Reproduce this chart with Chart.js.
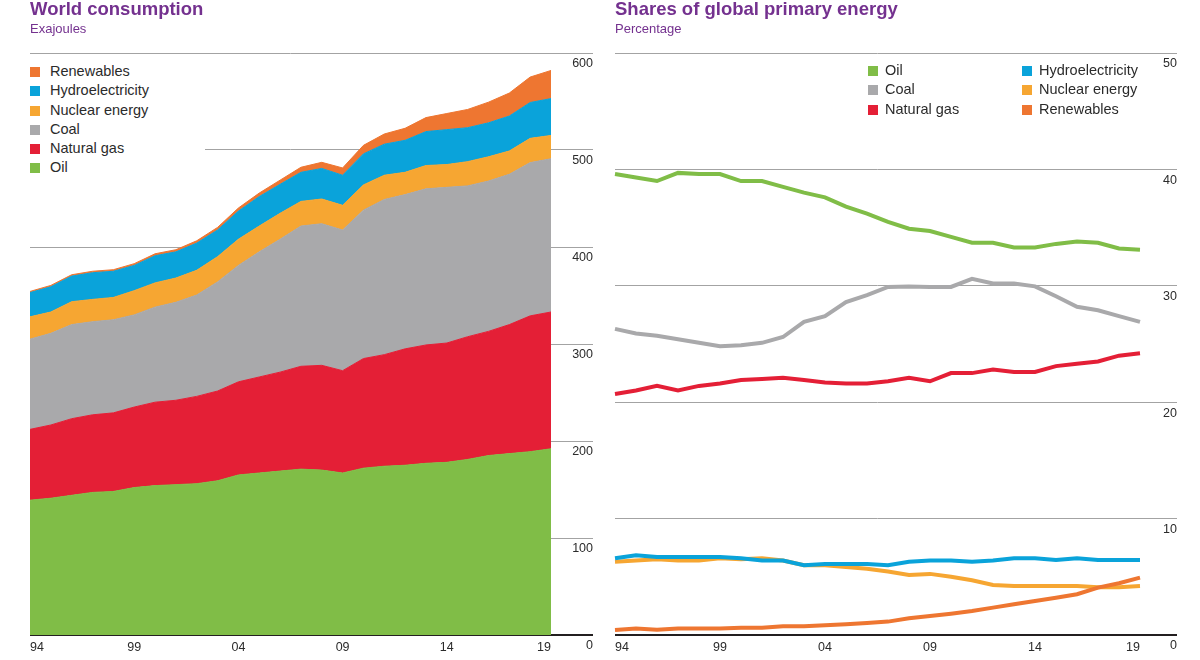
<!DOCTYPE html>
<html>
<head>
<meta charset="utf-8">
<script src="https://cdn.jsdelivr.net/npm/chart.js@4.4.1/dist/chart.umd.min.js"></script>
<style>
  body { margin: 0; width: 1200px; height: 660px; background: #fff; overflow: hidden; position: relative;
         font-family: "Liberation Sans", Arial, sans-serif; }
  .panel { position: absolute; top: 0; width: 600px; height: 660px; }
  .title { position: absolute; top: -1px; font-weight: bold; font-size: 18.5px; line-height: 20px; color: #74318f; white-space: nowrap; }
  .sub { position: absolute; top: 21px; font-size: 13px; line-height: 15px; color: #74318f; }
  .legend { position: absolute; font-size: 14.5px; line-height: 19.3px; color: #2b2b2b; }
  .legend div { white-space: nowrap; }
  .legend span { display: inline-block; width: 10px; height: 10px; vertical-align: -1px; }
</style>
</head>
<body>
<div class="panel" style="left:0"><canvas id="graficoConsumo"></canvas></div>
<div class="panel" style="left:600px"><canvas id="graficoShares"></canvas></div>

<div class="title" style="left:30px">World consumption</div>
<div class="sub" style="left:30px">Exajoules</div>
<div class="title" style="left:615px">Shares of global primary energy</div>
<div class="sub" style="left:615px">Percentage</div>

<div class="legend" id="legendaConsumo" style="left:30px;top:62px;width:175px;height:118px;background:#fff"></div>
<div class="legend" id="legendaShares1" style="left:868px;top:61px"></div>
<div class="legend" id="legendaShares2" style="left:1022px;top:61px"></div>

<script>
// anos do eixo x
const years = [1994, 1995, 1996, 1997, 1998, 1999, 2000, 2001, 2002, 2003, 2004, 2005, 2006,
               2007, 2008, 2009, 2010, 2011, 2012, 2013, 2014, 2015, 2016, 2017, 2018, 2019];

// World consumption, exajoules (empilhado)
const oilEJ     = [139, 141, 144, 147, 148, 152, 154, 155, 156, 159, 165, 167, 169, 171, 170, 167, 172, 174, 175, 177, 178, 181, 185, 187, 189, 192];
const gasEJ     = [73, 75.5, 79, 80, 81, 83, 86, 87, 90, 92.5, 96, 99, 102, 106, 108, 105.5, 113, 115, 120, 122, 123, 126.5, 128, 133, 140, 141];
const coalEJ    = [93, 94.5, 97, 96, 96, 95, 98, 101, 104.5, 112.5, 120, 129, 137, 144.6, 146, 145, 153, 160, 159, 161, 160.5, 155.5, 155, 155, 158, 158];
const nuclearEJ = [23, 22, 23.6, 23, 23, 25, 25, 25, 25.5, 26, 27, 26.6, 26.7, 25.4, 25.5, 25.5, 26, 25, 23, 24, 23.5, 25, 25, 24, 25, 24];
const hydroEJ   = [25, 26, 26.4, 27.5, 27, 26, 28, 27, 28, 27.5, 29, 30.4, 29.9, 30, 31.5, 31, 32, 32, 33, 35, 36, 35, 35, 36, 37, 38];
const renewEJ   = [1.2, 1.4, 1.4, 1.5, 1.6, 1.8, 2, 2.2, 2.4, 2.7, 3.2, 3.6, 4.3, 5.2, 6.3, 7.5, 8.8, 10.5, 12.4, 14.4, 16.6, 18.8, 21.3, 23.7, 26.2, 29];

// Shares of global primary energy, percentagem
const oilShare     = [39.6, 39.3, 39.0, 39.7, 39.6, 39.6, 39.0, 39.0, 38.5, 38.0, 37.6, 36.8, 36.2, 35.5, 34.9, 34.7, 34.2, 33.7, 33.7, 33.3, 33.3, 33.6, 33.8, 33.7, 33.2, 33.1];
const coalShare    = [26.3, 25.9, 25.7, 25.4, 25.1, 24.8, 24.9, 25.1, 25.6, 26.9, 27.4, 28.6, 29.2, 29.9, 29.95, 29.9, 29.9, 30.6, 30.2, 30.2, 29.95, 29.1, 28.2, 27.9, 27.4, 26.9];
const gasShare     = [20.7, 21.0, 21.4, 21.0, 21.4, 21.6, 21.9, 22.0, 22.1, 21.9, 21.7, 21.6, 21.6, 21.8, 22.1, 21.8, 22.5, 22.5, 22.8, 22.6, 22.6, 23.1, 23.3, 23.5, 24.0, 24.2];
const hydroShare   = [6.6, 6.85, 6.7, 6.7, 6.7, 6.7, 6.6, 6.4, 6.4, 6.0, 6.1, 6.1, 6.1, 6.0, 6.3, 6.4, 6.4, 6.3, 6.4, 6.6, 6.6, 6.45, 6.6, 6.45, 6.45, 6.45];
const nuclearShare = [6.3, 6.4, 6.5, 6.4, 6.4, 6.6, 6.5, 6.6, 6.4, 6.0, 6.0, 5.85, 5.7, 5.45, 5.15, 5.25, 5.0, 4.7, 4.3, 4.2, 4.2, 4.2, 4.2, 4.1, 4.1, 4.2];
const renewShare   = [0.43, 0.55, 0.45, 0.55, 0.55, 0.55, 0.63, 0.63, 0.75, 0.75, 0.83, 0.92, 1.03, 1.15, 1.43, 1.63, 1.83, 2.06, 2.35, 2.64, 2.92, 3.2, 3.5, 4.07, 4.45, 4.93];

const cores = {
  'Oil': '#80bd47',
  'Natural gas': '#e41f36',
  'Coal': '#a9a9ab',
  'Nuclear energy': '#f6a632',
  'Hydroelectricity': '#0aa3da',
  'Renewables': '#ee7631'
};

// ordem de empilhamento (de baixo para cima)
const consumoNomes = ['Oil', 'Natural gas', 'Coal', 'Nuclear energy', 'Hydroelectricity', 'Renewables'];
const consumoDados = [oilEJ, gasEJ, coalEJ, nuclearEJ, hydroEJ, renewEJ];

const sharesNomes = ['Oil', 'Coal', 'Natural gas', 'Hydroelectricity', 'Nuclear energy', 'Renewables'];
const sharesDados = [oilShare, coalShare, gasShare, hydroShare, nuclearShare, renewShare];
const sharesOrdem = [5, 4, 3, 1, 2, 0]; // renewables por cima

function corGrade(ctx) {
  return ctx.tick && ctx.tick.value === 0 ? '#231f20' : '#a3a3a3';
}
function larguraGrade(ctx) {
  return ctx.tick && ctx.tick.value === 0 ? 2 : 1;
}

function escalas(maxY, passo, larguraEixo, empilhado) {
  return {
    x: {
      type: 'category',
      grid: { display: false, drawTicks: false },
      border: { display: false },
      ticks: {
        autoSkip: false, maxRotation: 0, align: 'inner', padding: 5,
        color: '#2b2b2b', font: { size: 12.5 },
        callback: (v, i) => i % 5 === 0 ? String(years[i]).slice(2) : null
      },
      afterFit: s => { s.height = 25; }
    },
    y: {
      position: 'right', min: 0, max: maxY, stacked: empilhado,
      grid: { color: corGrade, lineWidth: larguraGrade, tickLength: larguraEixo, drawTicks: true },
      border: { display: false },
      ticks: { stepSize: passo, crossAlign: 'far', labelOffset: 11, color: '#2b2b2b', font: { size: 12.5 } },
      afterFit: s => { s.width = larguraEixo; }
    }
  };
}

Chart.defaults.font.family = '"Liberation Sans", Arial, sans-serif';

// primeiro grafico: area empilhada
new Chart(document.getElementById('graficoConsumo').getContext('2d'), {
  type: 'line',
  data: {
    labels: years,
    datasets: consumoDados.map((d, i) => ({
      label: consumoNomes[i],
      data: d,
      backgroundColor: cores[consumoNomes[i]],
      borderColor: cores[consumoNomes[i]],
      borderWidth: 1,
      pointRadius: 0,
      tension: 0,
      fill: i === 0 ? 'origin' : '-1'
    }))
  },
  options: {
    responsive: true, maintainAspectRatio: false, animation: false,
    layout: { padding: { left: 30, top: 53, right: 7, bottom: 0 } },
    plugins: { legend: { display: false }, tooltip: { enabled: false } },
    scales: escalas(600, 100, 42, true)
  }
});

// segundo grafico: linhas
new Chart(document.getElementById('graficoShares').getContext('2d'), {
  type: 'line',
  data: {
    labels: years,
    datasets: sharesDados.map((d, i) => ({
      label: sharesNomes[i],
      data: d,
      borderColor: cores[sharesNomes[i]],
      backgroundColor: cores[sharesNomes[i]],
      borderWidth: 4,
      pointRadius: 0,
      tension: 0,
      fill: false,
      order: sharesOrdem[i]
    }))
  },
  options: {
    responsive: true, maintainAspectRatio: false, animation: false,
    layout: { padding: { left: 15, top: 53, right: 23, bottom: 0 } },
    plugins: { legend: { display: false }, tooltip: { enabled: false } },
    scales: escalas(50, 10, 37, false)
  }
});

// legendas em html
function montarLegenda(id, nomes) {
  var el = document.getElementById(id);
  var html = '';
  nomes.forEach(function(n) {
    html += '<div><span style="background:' + cores[n] + ';margin-right:' + (id === 'legendaConsumo' ? 10 : 7) + 'px"></span>' + n + '</div>';
  });
  el.innerHTML = html;
}
montarLegenda('legendaConsumo', consumoNomes.slice().reverse());
montarLegenda('legendaShares1', sharesNomes.slice(0, 3));
montarLegenda('legendaShares2', sharesNomes.slice(3));
</script>
</body>
</html>
